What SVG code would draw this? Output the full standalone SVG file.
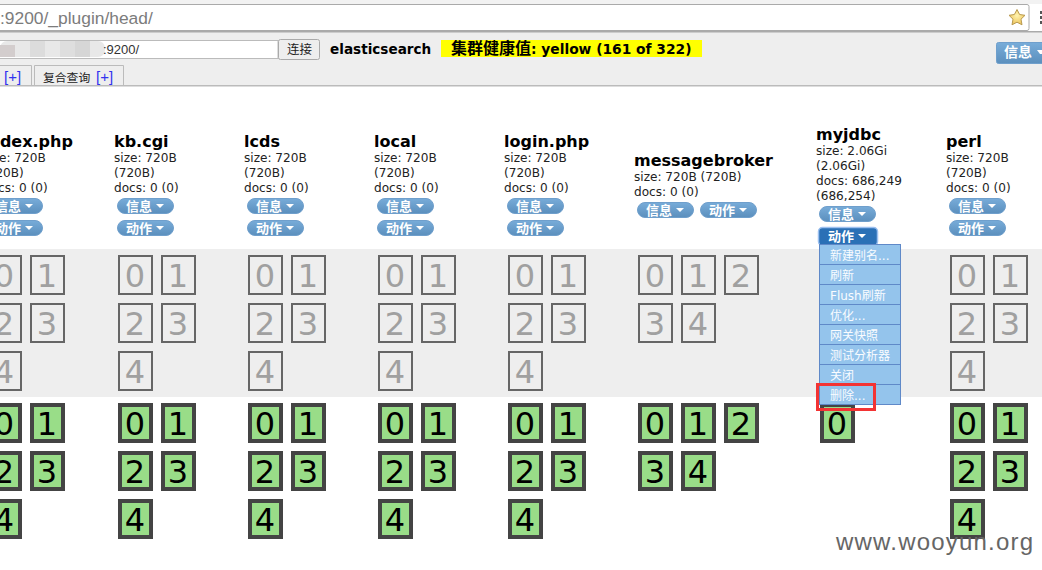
<svg xmlns="http://www.w3.org/2000/svg" width="1042" height="570" viewBox="0 0 1042 570">
<defs>
<linearGradient id="btn" x1="0" y1="0" x2="0" y2="1"><stop offset="0" stop-color="#78acd9"/><stop offset="1" stop-color="#5b8fbd"/></linearGradient>
<radialGradient id="starG" cx="0.5" cy="0.4" r="0.6"><stop offset="0" stop-color="#fff3b0"/><stop offset="1" stop-color="#edc45a"/></radialGradient>
<g id="sg"><rect x="1" y="1" width="33" height="38" fill="none" stroke="#666" stroke-width="2"/></g>
<g id="sp"><rect x="2" y="2" width="31" height="36" fill="#99dd88" stroke="#444" stroke-width="4"/></g>
</defs>
<style>
text{font-family:"DejaVu Sans","Noto Sans CJK SC",sans-serif}
.t{font-size:16px;font-weight:bold;fill:#000}
.s{font-size:12.100px;fill:#222}
.bt{fill:url(#btn);stroke:#6f9fcc;stroke-width:1}
.bl{font-family:"Noto Sans CJK SC",sans-serif;font-size:13px;font-weight:bold;fill:#fff}
.c{fill:#fff}
.g{font-size:32px;fill:#a0a0a0;text-anchor:middle}
.k{font-size:32px;fill:#000;text-anchor:middle}
.m{font-family:"DejaVu Sans","Noto Sans CJK SC",sans-serif;font-size:12px;fill:#fafcff}
.mi{fill:#94c4ec;stroke:#5f89c8;stroke-width:1}
</style>
<rect width="1042" height="570" fill="#fff"/>
<g id="browser">
<rect x="0" y="0" width="1042" height="4" fill="#f2f2f2"/>
<rect x="-3" y="4.500" width="1032" height="26" rx="2" fill="#fff" stroke="#aaa"/>
<text x="0" y="24" style="font-family:'Liberation Sans',sans-serif;font-size:17.400px;fill:#7c7c7c">:9200/_plugin/head/</text>
<polygon points="1017,9.500 1019.600,14.500 1025,15.300 1021,19.200 1022,24.800 1017,22.200 1012,24.800 1013,19.200 1009,15.300 1014.400,14.500" fill="url(#starG)" stroke="#b89a50"/>
<rect x="1040" y="11" width="2" height="3" fill="#555"/><rect x="1040" y="16" width="2" height="3" fill="#555"/><rect x="1040" y="21" width="2" height="3" fill="#555"/>
</g>
<g id="toolbar">
<rect x="0" y="32" width="1042" height="53" fill="#eee"/>
<rect x="0" y="31" width="1042" height="1.500" fill="#aaa"/>
<rect x="-2" y="40.500" width="280" height="18" fill="#fff" stroke="#bbb"/>
<rect x="0" y="41" width="105" height="16" rx="7" fill="#e8e8e8"/>
<rect x="0" y="45" width="15" height="12" fill="#d3cdcd"/>
<rect x="30" y="41" width="15" height="16" fill="#dcdcdc"/><rect x="60" y="41" width="15" height="16" fill="#dedede"/><rect x="75" y="41" width="15" height="16" fill="#d6d6d6"/>
<text x="103" y="54" style="font-family:'Liberation Sans',sans-serif;font-size:13px;fill:#333">:9200/</text>
<rect x="278.500" y="39.500" width="41" height="20" rx="2" fill="#eee" stroke="#aaa"/>
<text x="287" y="54" style="font-family:'Noto Sans CJK SC',sans-serif;font-size:12.500px;fill:#222">连接</text>
<text x="330" y="54" style="font-size:13.600px;font-weight:bold;fill:#000">elasticsearch</text>
<rect x="441" y="40" width="261" height="17" fill="#ffff00"/>
<text x="451" y="54" style="font-size:13.800px;font-weight:bold;fill:#000"><tspan style="font-size:16px">集群健康值</tspan>: yellow (161 of 322)</text>
<rect x="996.500" y="42.500" width="60" height="21" rx="2" fill="url(#btn)" stroke="#6f9fcc"/>
<text x="1004" y="57" class="bl" style="font-size:14px">信息</text>
<polygon class="c" points="1037,50 1042,50 1042,54 1040,54"/>
<path d="M-2 85V65.500H31.500V85M34.500 85V65.500H123.500V85" fill="none" stroke="#bbb"/>
<text x="4" y="82" style="font-family:'Liberation Sans',sans-serif;font-size:15px;fill:#3333ee">[+]</text>
<text x="43" y="82" style="font-family:'Noto Sans CJK SC',sans-serif;font-size:11.800px;fill:#222">复合查询</text>
<text x="96" y="82" style="font-family:'Liberation Sans',sans-serif;font-size:15px;fill:#3333ee">[+]</text>
<rect x="0" y="85" width="1042" height="1.500" fill="#bbb"/>
</g>
<rect id="band" x="0" y="249" width="1042" height="148" fill="#eee"/>
<g id="connectors"></g>

<g id="idx-index" transform="translate(-13,0)">
<text x="-4" y="147" class="t">index.php</text>
<text x="-4" y="162" class="s">size: 720B</text><text x="-4" y="177" class="s">(720B)</text><text x="-4" y="192" class="s">docs: 0 (0)</text>
<rect class="bt" x="-0.500" y="198.500" width="56" height="15" rx="7.500"/><text class="bl" x="8" y="211">信息</text><polygon class="c" points="38,204 46,204 42,208"/>
<rect class="bt" x="-0.500" y="220.500" width="56" height="15" rx="7.500"/><text class="bl" x="8" y="233">动作</text><polygon class="c" points="38,226 46,226 42,230"/>
<g transform="translate(0,255)"><use href="#sg"/><text class="g" x="17" y="32">0</text></g>
<g transform="translate(43,255)"><use href="#sg"/><text class="g" x="17" y="32">1</text></g>
<g transform="translate(0,303)"><use href="#sg"/><text class="g" x="17" y="32">2</text></g>
<g transform="translate(43,303)"><use href="#sg"/><text class="g" x="17" y="32">3</text></g>
<g transform="translate(0,351)"><use href="#sg"/><text class="g" x="17" y="32">4</text></g>
<g transform="translate(0,403)"><use href="#sp"/><text class="k" x="17" y="32">0</text></g>
<g transform="translate(43,403)"><use href="#sp"/><text class="k" x="17" y="32">1</text></g>
<g transform="translate(0,451)"><use href="#sp"/><text class="k" x="17" y="32">2</text></g>
<g transform="translate(43,451)"><use href="#sp"/><text class="k" x="17" y="32">3</text></g>
<g transform="translate(0,499)"><use href="#sp"/><text class="k" x="17" y="32">4</text></g>
</g>

<g id="idx-kb" transform="translate(118,0)">
<text x="-4" y="147" class="t">kb.cgi</text>
<text x="-4" y="162" class="s">size: 720B</text><text x="-4" y="177" class="s">(720B)</text><text x="-4" y="192" class="s">docs: 0 (0)</text>
<rect class="bt" x="-0.500" y="198.500" width="56" height="15" rx="7.500"/><text class="bl" x="8" y="211">信息</text><polygon class="c" points="38,204 46,204 42,208"/>
<rect class="bt" x="-0.500" y="220.500" width="56" height="15" rx="7.500"/><text class="bl" x="8" y="233">动作</text><polygon class="c" points="38,226 46,226 42,230"/>
<g transform="translate(0,255)"><use href="#sg"/><text class="g" x="17" y="32">0</text></g>
<g transform="translate(43,255)"><use href="#sg"/><text class="g" x="17" y="32">1</text></g>
<g transform="translate(0,303)"><use href="#sg"/><text class="g" x="17" y="32">2</text></g>
<g transform="translate(43,303)"><use href="#sg"/><text class="g" x="17" y="32">3</text></g>
<g transform="translate(0,351)"><use href="#sg"/><text class="g" x="17" y="32">4</text></g>
<g transform="translate(0,403)"><use href="#sp"/><text class="k" x="17" y="32">0</text></g>
<g transform="translate(43,403)"><use href="#sp"/><text class="k" x="17" y="32">1</text></g>
<g transform="translate(0,451)"><use href="#sp"/><text class="k" x="17" y="32">2</text></g>
<g transform="translate(43,451)"><use href="#sp"/><text class="k" x="17" y="32">3</text></g>
<g transform="translate(0,499)"><use href="#sp"/><text class="k" x="17" y="32">4</text></g>
</g>

<g id="idx-lcds" transform="translate(248,0)">
<text x="-4" y="147" class="t">lcds</text>
<text x="-4" y="162" class="s">size: 720B</text><text x="-4" y="177" class="s">(720B)</text><text x="-4" y="192" class="s">docs: 0 (0)</text>
<rect class="bt" x="-0.500" y="198.500" width="56" height="15" rx="7.500"/><text class="bl" x="8" y="211">信息</text><polygon class="c" points="38,204 46,204 42,208"/>
<rect class="bt" x="-0.500" y="220.500" width="56" height="15" rx="7.500"/><text class="bl" x="8" y="233">动作</text><polygon class="c" points="38,226 46,226 42,230"/>
<g transform="translate(0,255)"><use href="#sg"/><text class="g" x="17" y="32">0</text></g>
<g transform="translate(43,255)"><use href="#sg"/><text class="g" x="17" y="32">1</text></g>
<g transform="translate(0,303)"><use href="#sg"/><text class="g" x="17" y="32">2</text></g>
<g transform="translate(43,303)"><use href="#sg"/><text class="g" x="17" y="32">3</text></g>
<g transform="translate(0,351)"><use href="#sg"/><text class="g" x="17" y="32">4</text></g>
<g transform="translate(0,403)"><use href="#sp"/><text class="k" x="17" y="32">0</text></g>
<g transform="translate(43,403)"><use href="#sp"/><text class="k" x="17" y="32">1</text></g>
<g transform="translate(0,451)"><use href="#sp"/><text class="k" x="17" y="32">2</text></g>
<g transform="translate(43,451)"><use href="#sp"/><text class="k" x="17" y="32">3</text></g>
<g transform="translate(0,499)"><use href="#sp"/><text class="k" x="17" y="32">4</text></g>
</g>

<g id="idx-local" transform="translate(378,0)">
<text x="-4" y="147" class="t">local</text>
<text x="-4" y="162" class="s">size: 720B</text><text x="-4" y="177" class="s">(720B)</text><text x="-4" y="192" class="s">docs: 0 (0)</text>
<rect class="bt" x="-0.500" y="198.500" width="56" height="15" rx="7.500"/><text class="bl" x="8" y="211">信息</text><polygon class="c" points="38,204 46,204 42,208"/>
<rect class="bt" x="-0.500" y="220.500" width="56" height="15" rx="7.500"/><text class="bl" x="8" y="233">动作</text><polygon class="c" points="38,226 46,226 42,230"/>
<g transform="translate(0,255)"><use href="#sg"/><text class="g" x="17" y="32">0</text></g>
<g transform="translate(43,255)"><use href="#sg"/><text class="g" x="17" y="32">1</text></g>
<g transform="translate(0,303)"><use href="#sg"/><text class="g" x="17" y="32">2</text></g>
<g transform="translate(43,303)"><use href="#sg"/><text class="g" x="17" y="32">3</text></g>
<g transform="translate(0,351)"><use href="#sg"/><text class="g" x="17" y="32">4</text></g>
<g transform="translate(0,403)"><use href="#sp"/><text class="k" x="17" y="32">0</text></g>
<g transform="translate(43,403)"><use href="#sp"/><text class="k" x="17" y="32">1</text></g>
<g transform="translate(0,451)"><use href="#sp"/><text class="k" x="17" y="32">2</text></g>
<g transform="translate(43,451)"><use href="#sp"/><text class="k" x="17" y="32">3</text></g>
<g transform="translate(0,499)"><use href="#sp"/><text class="k" x="17" y="32">4</text></g>
</g>

<g id="idx-login" transform="translate(508,0)">
<text x="-4" y="147" class="t">login.php</text>
<text x="-4" y="162" class="s">size: 720B</text><text x="-4" y="177" class="s">(720B)</text><text x="-4" y="192" class="s">docs: 0 (0)</text>
<rect class="bt" x="-0.500" y="198.500" width="56" height="15" rx="7.500"/><text class="bl" x="8" y="211">信息</text><polygon class="c" points="38,204 46,204 42,208"/>
<rect class="bt" x="-0.500" y="220.500" width="56" height="15" rx="7.500"/><text class="bl" x="8" y="233">动作</text><polygon class="c" points="38,226 46,226 42,230"/>
<g transform="translate(0,255)"><use href="#sg"/><text class="g" x="17" y="32">0</text></g>
<g transform="translate(43,255)"><use href="#sg"/><text class="g" x="17" y="32">1</text></g>
<g transform="translate(0,303)"><use href="#sg"/><text class="g" x="17" y="32">2</text></g>
<g transform="translate(43,303)"><use href="#sg"/><text class="g" x="17" y="32">3</text></g>
<g transform="translate(0,351)"><use href="#sg"/><text class="g" x="17" y="32">4</text></g>
<g transform="translate(0,403)"><use href="#sp"/><text class="k" x="17" y="32">0</text></g>
<g transform="translate(43,403)"><use href="#sp"/><text class="k" x="17" y="32">1</text></g>
<g transform="translate(0,451)"><use href="#sp"/><text class="k" x="17" y="32">2</text></g>
<g transform="translate(43,451)"><use href="#sp"/><text class="k" x="17" y="32">3</text></g>
<g transform="translate(0,499)"><use href="#sp"/><text class="k" x="17" y="32">4</text></g>
</g>

<g id="idx-messagebroker" transform="translate(638,0)">
<text x="-4" y="166" class="t">messagebroker</text>
<text x="-4" y="181" class="s">size: 720B (720B)</text><text x="-4" y="196" class="s">docs: 0 (0)</text>
<rect class="bt" x="-0.500" y="202.500" width="56" height="15" rx="7.500"/><text class="bl" x="8" y="215">信息</text><polygon class="c" points="38,208 46,208 42,212"/>
<rect class="bt" x="62.500" y="202.500" width="56" height="15" rx="7.500"/><text class="bl" x="71" y="215">动作</text><polygon class="c" points="101,208 109,208 105,212"/>
<g transform="translate(0,255)"><use href="#sg"/><text class="g" x="17" y="32">0</text></g>
<g transform="translate(43,255)"><use href="#sg"/><text class="g" x="17" y="32">1</text></g>
<g transform="translate(86,255)"><use href="#sg"/><text class="g" x="17" y="32">2</text></g>
<g transform="translate(0,303)"><use href="#sg"/><text class="g" x="17" y="32">3</text></g>
<g transform="translate(43,303)"><use href="#sg"/><text class="g" x="17" y="32">4</text></g>
<g transform="translate(0,403)"><use href="#sp"/><text class="k" x="17" y="32">0</text></g>
<g transform="translate(43,403)"><use href="#sp"/><text class="k" x="17" y="32">1</text></g>
<g transform="translate(86,403)"><use href="#sp"/><text class="k" x="17" y="32">2</text></g>
<g transform="translate(0,451)"><use href="#sp"/><text class="k" x="17" y="32">3</text></g>
<g transform="translate(43,451)"><use href="#sp"/><text class="k" x="17" y="32">4</text></g>
</g>

<g id="idx-myjdbc" transform="translate(820,0)">
<text x="-4" y="140" class="t">myjdbc</text>
<text x="-4" y="155" class="s">size: 2.06Gi</text><text x="-4" y="170" class="s">(2.06Gi)</text><text x="-4" y="185" class="s">docs: 686,249</text><text x="-4" y="200" class="s">(686,254)</text>
<rect class="bt" x="-0.500" y="206.500" width="56" height="15" rx="7.500"/><text class="bl" x="8" y="219">信息</text><polygon class="c" points="38,212 46,212 42,216"/>
<g transform="translate(0,403)"><use href="#sp"/><text class="k" x="17" y="32">0</text></g>
<rect x="-1.500" y="227.500" width="59" height="18" rx="4" fill="#2a70b6" stroke="#9cc0f0" stroke-width="1.500"/>
<text class="bl" x="8" y="241">动作</text><polygon class="c" points="38,234 46,234 42,238"/>
</g>

<g id="menu">
<rect class="mi" x="819.500" y="244.500" width="81" height="20"/><text class="m" x="830" y="260">新建别名...</text>
<rect class="mi" x="819.500" y="264.500" width="81" height="20"/><text class="m" x="830" y="280">刷新</text>
<rect class="mi" x="819.500" y="284.500" width="81" height="20"/><text class="m" x="830" y="300">Flush刷新</text>
<rect class="mi" x="819.500" y="304.500" width="81" height="20"/><text class="m" x="830" y="320">优化...</text>
<rect class="mi" x="819.500" y="324.500" width="81" height="20"/><text class="m" x="830" y="340">网关快照</text>
<rect class="mi" x="819.500" y="344.500" width="81" height="20"/><text class="m" x="830" y="360">测试分析器</text>
<rect class="mi" x="819.500" y="364.500" width="81" height="20"/><text class="m" x="830" y="380">关闭</text>
<rect class="mi" x="819.500" y="384.500" width="81" height="20"/><text class="m" x="830" y="400">删除...</text>
<rect x="817.500" y="384.500" width="57" height="25" fill="none" stroke="#f33333" stroke-width="3"/>
</g>

<g id="idx-perl" transform="translate(950,0)">
<text x="-4" y="147" class="t">perl</text>
<text x="-4" y="162" class="s">size: 720B</text><text x="-4" y="177" class="s">(720B)</text><text x="-4" y="192" class="s">docs: 0 (0)</text>
<rect class="bt" x="-0.500" y="198.500" width="56" height="15" rx="7.500"/><text class="bl" x="8" y="211">信息</text><polygon class="c" points="38,204 46,204 42,208"/>
<rect class="bt" x="-0.500" y="220.500" width="56" height="15" rx="7.500"/><text class="bl" x="8" y="233">动作</text><polygon class="c" points="38,226 46,226 42,230"/>
<g transform="translate(0,255)"><use href="#sg"/><text class="g" x="17" y="32">0</text></g>
<g transform="translate(43,255)"><use href="#sg"/><text class="g" x="17" y="32">1</text></g>
<g transform="translate(0,303)"><use href="#sg"/><text class="g" x="17" y="32">2</text></g>
<g transform="translate(43,303)"><use href="#sg"/><text class="g" x="17" y="32">3</text></g>
<g transform="translate(0,351)"><use href="#sg"/><text class="g" x="17" y="32">4</text></g>
<g transform="translate(0,403)"><use href="#sp"/><text class="k" x="17" y="32">0</text></g>
<g transform="translate(43,403)"><use href="#sp"/><text class="k" x="17" y="32">1</text></g>
<g transform="translate(0,451)"><use href="#sp"/><text class="k" x="17" y="32">2</text></g>
<g transform="translate(43,451)"><use href="#sp"/><text class="k" x="17" y="32">3</text></g>
<g transform="translate(0,499)"><use href="#sp"/><text class="k" x="17" y="32">4</text></g>
</g>

<text id="watermark" x="836" y="550" style="font-family:'Liberation Sans',sans-serif;font-size:24px;letter-spacing:1.200px;fill:#666">www.wooyun.org</text>
</svg>
